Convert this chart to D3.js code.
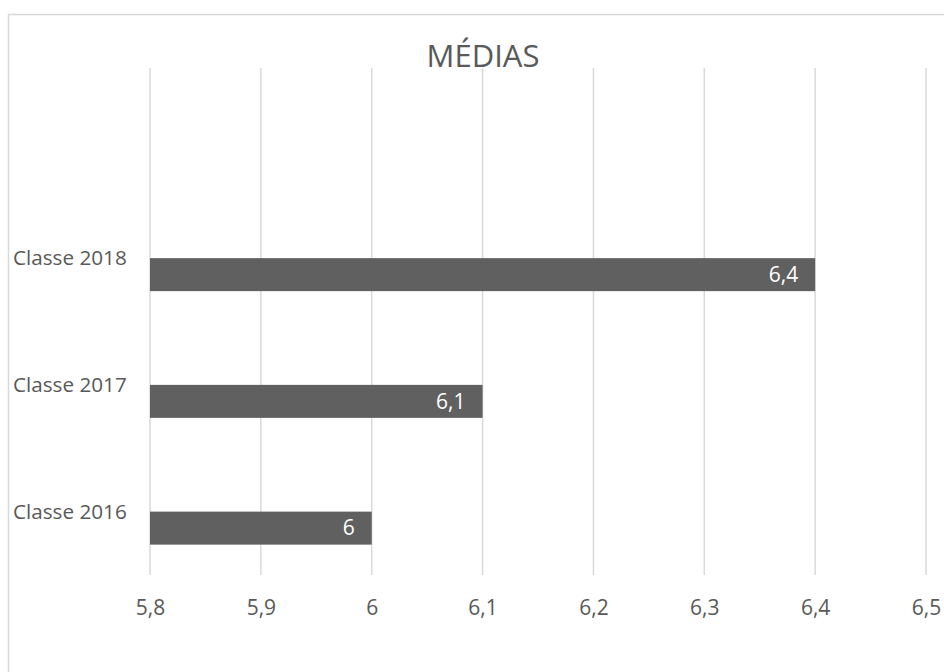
<!DOCTYPE html>
<html>
<head>
<meta charset="utf-8">
<script src="https://cdn.jsdelivr.net/npm/d3@7"></script>
<style>
  body { margin: 0; background: #fff; }
  text { font-family: "Open Sans", "Noto Sans", sans-serif; fill: #595959; }
</style>
</head>
<body>
<svg width="944" height="672"></svg>
<script>
var categories = ["Classe 2016", "Classe 2017", "Classe 2018"];
var values = [6.0, 6.1, 6.4];
var valueLabels = ["6", "6,1", "6,4"];
var ticks = [5.8, 5.9, 6.0, 6.1, 6.2, 6.3, 6.4, 6.5];

var svg = d3.select("svg");

// chart border (runs past the right and bottom edges)
svg.append("rect")
    .attr("x", 8.5).attr("y", 14.5)
    .attr("width", 1000).attr("height", 800)
    .attr("fill", "none")
    .attr("stroke", "#d9d9d9")
    .attr("stroke-width", 1.5);

var x = d3.scaleLinear()
    .domain([5.8, 6.5])
    .range([150, 926]);

// four slots, the top one is empty
var y = d3.scaleLinear()
    .domain([-0.5, 3.5])
    .range([575, 68]);

var barH = 33;

// gridlines
svg.append("g").selectAll("line")
    .data(ticks)
    .join("line")
    .attr("x1", function(d) { return x(d); })
    .attr("x2", function(d) { return x(d); })
    .attr("y1", y(3.5))
    .attr("y2", y(-0.5))
    .attr("stroke", "#d9d9d9")
    .attr("stroke-width", 1.5);

// x axis labels
var xAxis = d3.axisBottom(x)
    .tickValues(ticks)
    .tickSize(0)
    .tickPadding(0)
    .tickFormat(function(d) { return d3.format(".1f")(d).replace(".0", "").replace(".", ","); });

var gx = svg.append("g")
    .attr("transform", "translate(0,608)")
    .call(xAxis);
gx.select(".domain").remove();
gx.selectAll("text")
    .attr("dy", "0.35em")
    .attr("y", 0)
    .style("font-size", "21px")
    .attr("fill", "#595959");

// category labels
svg.append("g").selectAll("text")
    .data(categories)
    .join("text")
    .attr("x", 13)
    .attr("y", function(d, i) { return y(i); })
    .attr("dy", "0.35em")
    .style("font-size", "20.7px")
    .text(function(d) { return d; });

// bars
svg.append("g").selectAll("rect")
    .data(values)
    .join("rect")
    .attr("x", x(5.8))
    .attr("y", function(d, i) { return y(i); })
    .attr("width", function(d) { return x(d) - x(5.8); })
    .attr("height", barH)
    .attr("fill", "#606060");

// value labels
svg.append("g").selectAll("text")
    .data(values)
    .join("text")
    .attr("x", function(d) { return x(d) - 17; })
    .attr("y", function(d, i) { return y(i) + barH / 2; })
    .attr("dy", "0.35em")
    .attr("text-anchor", "end")
    .style("font-size", "21px")
    .style("fill", "#ffffff")
    .text(function(d, i) { return valueLabels[i]; });

// title
svg.append("text")
    .attr("x", 483)
    .attr("y", 56)
    .attr("dy", "0.35em")
    .attr("text-anchor", "middle")
    .style("font-size", "31px")
    .text("MÉDIAS");
</script>
</body>
</html>
